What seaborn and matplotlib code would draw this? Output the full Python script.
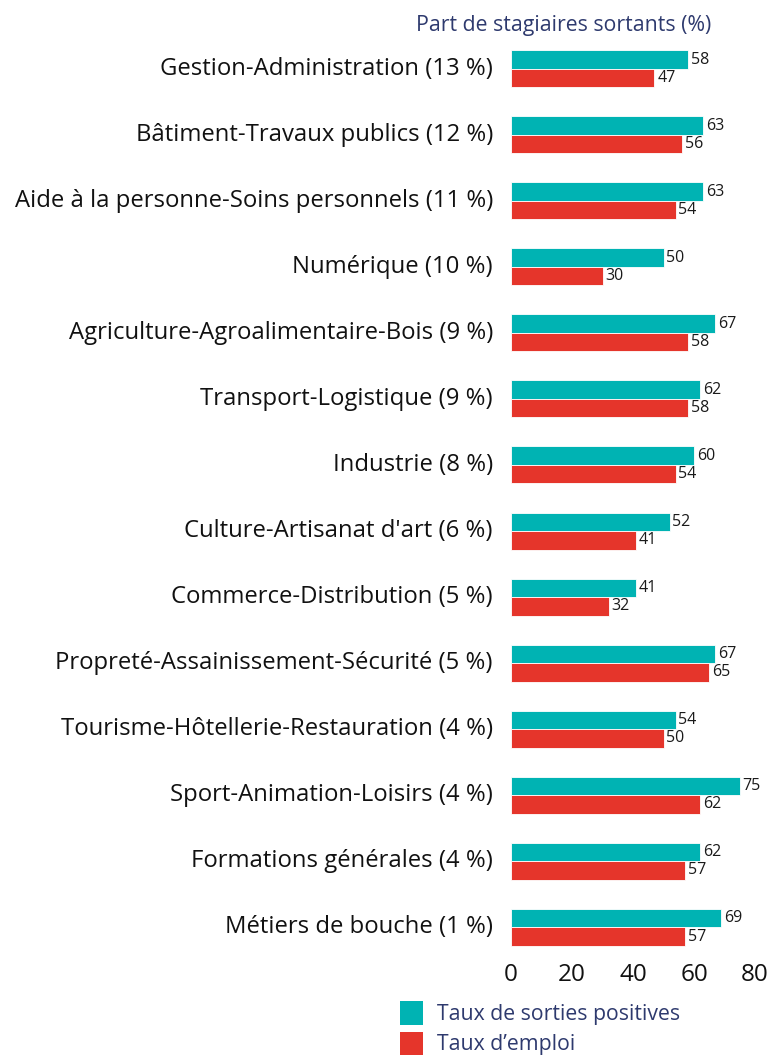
import matplotlib
matplotlib.use("Agg")
import matplotlib.pyplot as plt
import matplotlib.transforms as mtrans
import seaborn as sns
import pandas as pd
from matplotlib.patches import Patch

categories = [
    "Gestion-Administration (13 %)",
    "Bâtiment-Travaux publics (12 %)",
    "Aide à la personne-Soins personnels (11 %)",
    "Numérique (10 %)",
    "Agriculture-Agroalimentaire-Bois (9 %)",
    "Transport-Logistique (9 %)",
    "Industrie (8 %)",
    "Culture-Artisanat d'art (6 %)",
    "Commerce-Distribution (5 %)",
    "Propreté-Assainissement-Sécurité (5 %)",
    "Tourisme-Hôtellerie-Restauration (4 %)",
    "Sport-Animation-Loisirs (4 %)",
    "Formations générales (4 %)",
    "Métiers de bouche (1 %)",
]
sorties_positives = [58, 63, 63, 50, 67, 62, 60, 52, 41, 67, 54, 75, 62, 69]
taux_emploi = [47, 56, 54, 30, 58, 58, 54, 41, 32, 65, 50, 62, 57, 57]
series_names = ["Taux de sorties positives", "Taux d\u2019emploi"]
colors = ["#00B3B3", "#E5352B"]
x_ticks = [0, 20, 40, 60, 80]

sns.set_theme(style="white")
plt.rcParams["font.family"] = ["Open Sans", "DejaVu Sans"]

df = pd.DataFrame({
    "cat": categories * 2,
    "val": sorties_positives + taux_emploi,
    "serie": [series_names[0]] * len(categories) + [series_names[1]] * len(categories),
})

fig = plt.figure(figsize=(7.69, 10.57), dpi=100)
ax = fig.add_axes([0.6645, 0.0915, 0.3173, 0.8747])
sns.barplot(data=df, y="cat", x="val", hue="serie", orient="h",
            palette=colors, saturation=1, width=0.56, edgecolor="white",
            linewidth=0.6, ax=ax, legend=False)

for cont in ax.containers:
    ax.bar_label(cont, padding=2, fontsize=11.5, color="#1a1a1a")

ax.set_xlim(0, 80)
ax.set_xticks(x_ticks)
ax.set_xlabel("")
ax.set_ylabel("")
for s in ax.spines.values():
    s.set_visible(False)
ax.tick_params(axis="y", length=0, pad=13, labelsize=17.2, labelcolor="#111111")
ax.tick_params(axis="x", length=0, pad=2, labelsize=17.5, labelcolor="#111111")

shift = mtrans.ScaledTranslation(0, 3 / 100, fig.dpi_scale_trans)
for lab in ax.get_yticklabels():
    lab.set_transform(lab.get_transform() + shift)

fig.text(564 / 769, 1 - 25 / 1057, "Part de stagiaires sortants (%)",
         ha="center", va="center", fontsize=15.3, color="#2E3A6E")

handles = [Patch(facecolor=c, edgecolor="none") for c in colors]
leg = fig.legend(handles, series_names, loc="upper left",
                 bbox_to_anchor=(391 / 769, 1 - 993 / 1057),
                 frameon=False, fontsize=15.3, handlelength=1.1, handleheight=1.3,
                 handletextpad=0.65, labelspacing=0.3, borderaxespad=0)
for t in leg.get_texts():
    t.set_color("#2E3A6E")

fig.savefig("out.png", dpi=100)
